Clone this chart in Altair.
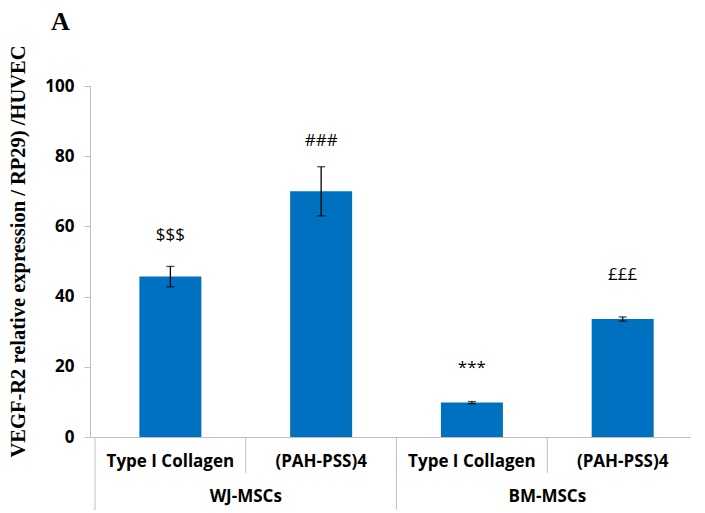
import altair as alt
import pandas as pd

# ---- data ----
groups = ["WJ-MSCs", "WJ-MSCs", "BM-MSCs", "BM-MSCs"]
conditions = ["Type I Collagen", "(PAH-PSS)4", "Type I Collagen", "(PAH-PSS)4"]
means = [45.7, 70.0, 9.8, 33.6]
errors = [2.9, 7.0, 0.3, 0.6]
signif = ["$$$", "###", "***", "£££"]
signif_y = [57.5, 84.2, 19.6, 46.2]
y_ticks = [0, 20, 40, 60, 80, 100]
panel_letter = "A"
y_title = "VEGF-R2 relative expression / RP29) /HUVEC"

# ---- layout / style ----
STEP = 153.5
XMAX = 3.92
W = int(STEP * XMAX)
H = 351
BLUE = "#0070C0"
GRID = "#BFBFBF"
SANS = "Open Sans"
SERIF = "Liberation Serif"

n = len(conditions)
df = pd.DataFrame({
    "group": groups, "condition": conditions, "mean": means,
    "err": errors, "sig": signif, "sig_y": signif_y,
})
df["pos"] = [i + 0.5 for i in range(n)]
df["lo"] = df["mean"] - df["err"]
df["hi"] = df["mean"] + df["err"]

# group centres
gnames = list(dict.fromkeys(groups))
gdf = pd.DataFrame({
    "group": gnames,
    "pos": [df.loc[df["group"] == g, "pos"].mean() for g in gnames],
})

# separators
long_b, short_b = [], []
for i in range(n):
    if i == 0 or groups[i] != groups[i - 1]:
        long_b.append(i)
    else:
        short_b.append(i)
long_df = pd.DataFrame({"pos": long_b})
short_df = pd.DataFrame({"pos": short_b})

xs = alt.Scale(domain=[0, XMAX], nice=False, zero=False)
X = alt.X("pos:Q", scale=xs,
          axis=alt.Axis(title=None, labels=False, ticks=False, grid=False,
                        domainColor=GRID, domainWidth=1))
ys = alt.Scale(domain=[0, 100], nice=False)

bars = alt.Chart(df).mark_bar(size=62, color=BLUE).encode(
    x=X,
    y=alt.Y("mean:Q", scale=ys, title=y_title,
            axis=alt.Axis(values=y_ticks, grid=False, domainColor=GRID,
                          tickColor=GRID, tickSize=6, labelPadding=10,
                          labelFont=SANS, labelFontSize=17, labelFontWeight="bold",
                          labelColor="black", titleFont=SERIF, titleFontSize=20.5,
                          titleFontWeight="bold", titleColor="black",
                          titlePadding=16, titleY=165)),
)

err_rule = alt.Chart(df).mark_rule(color="black", strokeWidth=1.3).encode(
    x="pos:Q", y=alt.Y("lo:Q", title=y_title), y2="hi:Q")
cap_lo = alt.Chart(df).mark_tick(orient="horizontal", size=8, thickness=1.3,
                                 color="black").encode(
    x="pos:Q", y=alt.Y("lo:Q", title=y_title))
cap_hi = alt.Chart(df).mark_tick(orient="horizontal", size=8, thickness=1.3,
                                 color="black").encode(
    x="pos:Q", y=alt.Y("hi:Q", title=y_title))

sig = alt.Chart(df).mark_text(font=SANS, fontSize=17, baseline="middle",
                              color="black").encode(
    x="pos:Q", y=alt.Y("sig_y:Q", title=y_title), text="sig:N")

cond_lbl = alt.Chart(df).mark_text(font=SANS, fontSize=17, fontWeight="bold",
                                   baseline="middle", color="black").encode(
    x="pos:Q", y=alt.value(H + 25), text="condition:N")

grp_lbl = alt.Chart(gdf).mark_text(font=SANS, fontSize=17, fontWeight="bold",
                                   baseline="middle", color="black").encode(
    x="pos:Q", y=alt.value(H + 60), text="group:N")

long_sep = alt.Chart(long_df).mark_rule(color=GRID, strokeWidth=1).encode(
    x="pos:Q", y=alt.value(H), y2=alt.value(H + 73))
short_sep = alt.Chart(short_df).mark_rule(color=GRID, strokeWidth=1).encode(
    x="pos:Q", y=alt.value(H), y2=alt.value(H + 36))

letter = alt.Chart(pd.DataFrame({"t": [panel_letter]})).mark_text(
    font=SERIF, fontSize=26, fontWeight="bold", align="left",
    baseline="alphabetic", color="black").encode(
    x=alt.value(-39), y=alt.value(-56), text="t:N")

chart = alt.layer(
    long_sep, short_sep, bars, err_rule, cap_lo, cap_hi, sig,
    cond_lbl, grp_lbl, letter,
).properties(
    width=W, height=H,
    padding={"left": 0, "top": 1, "right": 0, "bottom": 0},
    background="white",
).configure_view(stroke=None)

chart.save("out.html", embed_options={"renderer": "svg", "actions": False})
